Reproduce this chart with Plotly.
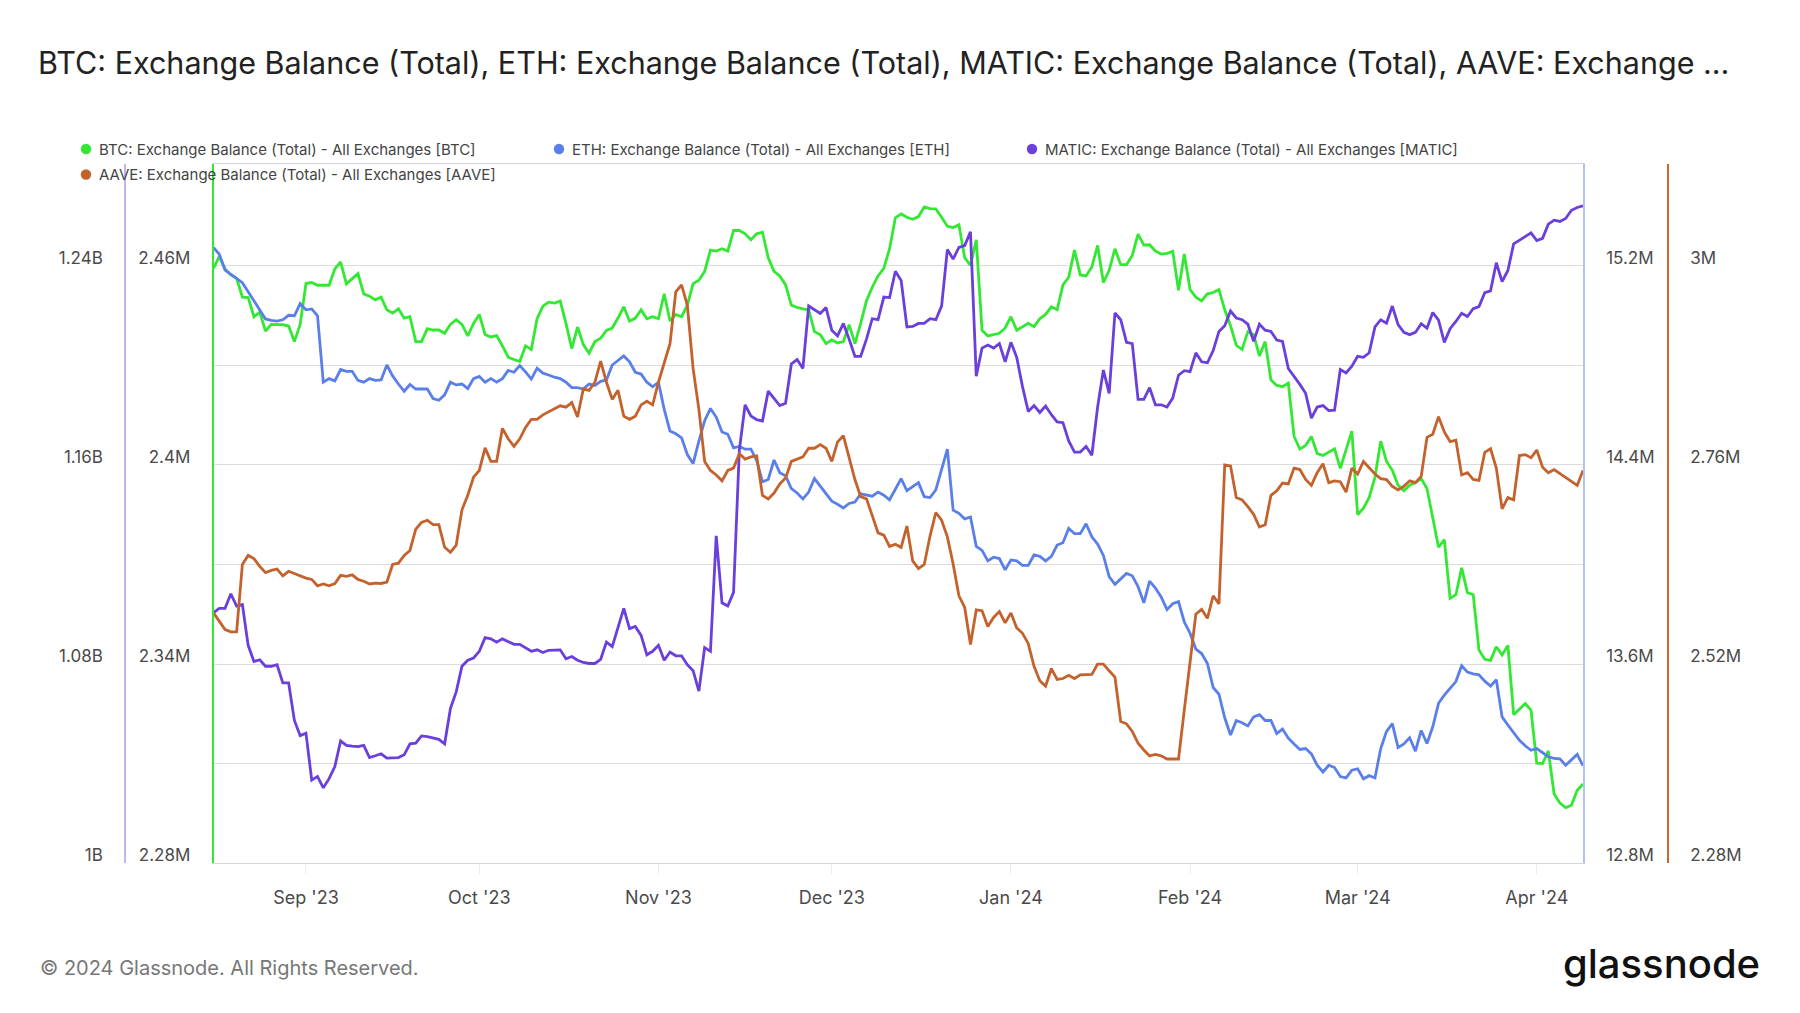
import pandas as pd
import plotly.graph_objects as go

start_date = "2023-08-16"

# daily exchange balances (Aug 16 2023 -> Apr 9 2024)
btc_k = [  # thousand BTC
    2459.3, 2462.9, 2459.1, 2457.3, 2456.3, 2450.6, 2450.5, 2444.7, 2446.1, 2440.4,
    2442.4, 2442.4, 2442.3, 2441.9, 2437.2, 2442.4, 2454.7, 2455.0, 2454.2, 2454.2,
    2454.2, 2459.1, 2461.2, 2454.6, 2456.1, 2457.7, 2451.6, 2450.9, 2449.8, 2450.6,
    2446.8, 2445.8, 2447.1, 2444.3, 2444.7,
    2437.2, 2437.2, 2441.1, 2440.7, 2440.7, 2439.7, 2442.4, 2443.8, 2442.4, 2438.9,
    2442.7, 2445.4, 2439.3, 2438.6, 2439.0, 2435.9, 2432.5, 2431.8, 2431.2, 2435.9,
    2434.8, 2444.1, 2447.9, 2449.1, 2448.8, 2449.4, 2442.7, 2435.1, 2441.6, 2436.3,
    2433.7, 2437.2, 2438.2,
    2440.6, 2441.3, 2444.3, 2447.7, 2443.4, 2444.3, 2446.8, 2444.1, 2444.7, 2444.1,
    2451.6, 2443.4, 2445.4, 2444.7, 2448.2, 2454.7, 2455.7, 2458.4, 2464.8, 2464.5,
    2465.2, 2464.5, 2470.7, 2470.7, 2469.7, 2467.9, 2469.7, 2470.2, 2462.5, 2458.4,
    2457.0, 2454.3, 2448.2, 2447.5,
    2447.1, 2446.8, 2440.2, 2439.3, 2436.6, 2437.7, 2436.8, 2437.2, 2442.3, 2436.6,
    2442.7, 2449.5, 2453.6, 2457.0, 2459.3, 2465.2, 2474.5, 2475.7, 2474.7, 2474.1,
    2474.9, 2477.8, 2477.3, 2477.2, 2474.7, 2472.0, 2471.6, 2472.4, 2462.5, 2460.2,
    2467.9, 2440.6, 2438.9, 2439.3,
    2439.7, 2441.3, 2444.7, 2440.6, 2441.7, 2442.7, 2441.7, 2444.1, 2445.4, 2447.7,
    2446.8, 2454.3, 2456.6, 2464.8, 2457.3, 2457.0, 2459.7, 2466.2, 2455.0, 2458.7,
    2465.2, 2460.4, 2460.4, 2463.2, 2469.6, 2466.3, 2466.4, 2464.5, 2463.6, 2463.8,
    2464.4, 2452.7, 2463.6, 2452.9,
    2450.6, 2449.5, 2451.6, 2452.0, 2452.9, 2446.8, 2442.0, 2436.1, 2434.8, 2440.2,
    2439.3, 2432.9, 2437.2, 2425.6, 2424.0, 2423.6, 2424.7, 2408.6, 2404.8, 2405.9,
    2408.6, 2403.4, 2402.9, 2403.8, 2404.9, 2399.0, 2404.5, 2410.2, 2385.0, 2387.0,
    2390.2, 2396.3, 2407.2,
    2401.1, 2398.4, 2393.9, 2392.2, 2393.9, 2394.7, 2395.9, 2392.9, 2384.0, 2375.2,
    2377.5, 2359.8, 2360.9, 2369.0, 2361.5, 2360.9, 2344.2, 2341.4, 2341.1, 2345.2,
    2342.7, 2345.6, 2324.7, 2326.5, 2328.1, 2326.1, 2310.1, 2310.0, 2313.8, 2300.8,
    2298.1, 2296.7, 2297.4, 2301.9, 2303.8,
]

eth_k = [  # thousand ETH
    15274.5, 15247.3, 15183.6, 15165.5, 15147.3, 15132.7, 15096.4, 15060.0, 15023.7, 14987.3,
    14981.8, 14978.2, 14983.7, 15001.8, 15000.0, 15049.1, 15023.7, 15027.3, 15000.0, 14732.8,
    14747.3, 14738.2, 14783.7, 14776.4, 14776.4, 14740.1, 14732.8, 14747.3, 14740.1, 14741.9,
    14801.9, 14758.2, 14725.5, 14696.5, 14723.7,
    14705.5, 14705.5, 14705.5, 14667.3, 14660.1, 14681.9, 14732.8, 14721.9, 14725.5, 14707.3,
    14747.3, 14756.4, 14732.8, 14747.3, 14732.8, 14747.3, 14780.0, 14772.8, 14800.0, 14774.6,
    14745.5, 14789.1, 14769.1, 14761.9, 14752.8, 14747.3, 14732.8, 14711.0, 14711.0, 14705.5,
    14725.5, 14720.1, 14736.4,
    14741.9, 14801.9, 14820.0, 14838.2, 14814.6, 14772.8, 14765.5, 14732.8, 14714.6, 14732.8,
    14623.7, 14536.4, 14525.5, 14509.2, 14441.9, 14405.5, 14496.4, 14578.4, 14627.3, 14592.8,
    14532.8, 14523.7, 14469.1, 14474.6, 14463.7, 14463.7, 14418.3, 14332.8, 14341.9, 14420.1,
    14369.2, 14356.4, 14305.5, 14287.4,
    14263.7, 14291.0, 14345.5, 14314.6, 14281.9, 14254.4, 14241.9, 14227.4, 14245.4, 14251.0,
    14283.7, 14278.3, 14274.6, 14291.0, 14278.3, 14260.1, 14301.9, 14345.5, 14296.5, 14314.6,
    14329.2, 14272.8, 14269.2, 14300.1, 14378.3, 14463.7, 14218.3, 14205.6, 14183.7, 14191.0,
    14072.9, 14056.5, 14014.6, 14029.2,
    14023.8, 13978.3, 14018.3, 14014.6, 13996.5, 13996.5, 14038.3, 14032.9, 14014.6, 14032.9,
    14078.3, 14087.4, 14145.4, 14123.7, 14123.7, 14163.7, 14111.0, 14081.9, 14036.5, 13951.0,
    13920.1, 13941.9, 13963.8, 13954.7, 13911.0, 13845.6, 13932.9, 13905.6, 13869.2, 13818.3,
    13842.0, 13851.0, 13769.2, 13723.8,
    13660.2, 13642.0, 13602.0, 13505.6, 13478.4, 13383.8, 13314.8, 13372.9, 13363.8, 13351.1,
    13387.5, 13396.5, 13372.9, 13372.9, 13320.2, 13338.4, 13302.0, 13278.4, 13256.6, 13260.2,
    13238.4, 13192.9, 13165.9, 13192.9, 13183.8, 13147.3, 13142.0, 13172.9, 13178.4, 13138.4,
    13151.1, 13142.0, 13260.2,
    13329.3, 13360.2, 13263.8, 13278.4, 13303.8, 13249.3, 13332.9, 13280.2, 13347.5, 13442.0,
    13474.7, 13503.8, 13529.3, 13592.9, 13567.4, 13560.2, 13556.5, 13531.1, 13511.1, 13536.5,
    13387.5, 13354.9, 13324.0, 13293.1, 13271.3, 13253.1, 13260.2, 13243.9, 13227.5, 13220.2,
    13218.4, 13193.0, 13212.9, 13236.6, 13191.1,
]

matic_m = [  # million MATIC
    1100.6, 1102.4, 1102.4, 1108.2, 1103.3, 1103.9, 1087.5, 1081.0, 1081.7, 1079.1,
    1079.1, 1079.7, 1072.4, 1072.4, 1057.3, 1051.2, 1052.2, 1033.3, 1034.8, 1030.2,
    1033.9, 1038.8, 1049.1, 1047.3, 1047.0, 1046.8, 1047.3, 1042.4, 1043.1, 1043.9,
    1042.2, 1042.4, 1042.4, 1043.5, 1047.9,
    1048.2, 1051.1, 1050.8, 1050.4, 1049.7, 1047.9, 1062.1, 1068.8, 1079.1, 1081.5,
    1082.4, 1085.1, 1090.6, 1090.1, 1088.8, 1090.1, 1089.0, 1087.9, 1087.9, 1086.4,
    1085.1, 1085.7, 1084.6, 1085.5, 1085.5, 1085.7, 1082.1, 1083.0, 1081.5, 1080.6,
    1080.2, 1080.2, 1081.9,
    1088.8, 1087.0, 1095.1, 1102.4, 1094.2, 1095.1, 1091.5, 1083.7, 1085.1, 1087.5,
    1081.5, 1084.8, 1083.3, 1083.3, 1079.7, 1077.3, 1069.1, 1086.6, 1085.1, 1131.5,
    1104.6, 1103.3, 1108.8, 1166.0, 1184.2, 1179.7, 1178.2, 1177.7, 1189.7, 1187.0,
    1183.9, 1184.8, 1200.6, 1202.4,
    1198.8, 1223.9, 1222.4, 1220.9, 1223.3, 1214.2, 1211.9, 1216.9, 1210.6, 1203.7,
    1203.7, 1210.6, 1218.8, 1218.4, 1227.5, 1227.3, 1237.9, 1234.2, 1215.5, 1215.7,
    1216.9, 1216.9, 1218.8, 1218.4, 1223.9, 1246.6, 1242.8, 1247.5, 1248.2, 1253.7,
    1195.7, 1207.0, 1208.2, 1207.0,
    1208.8, 1201.5, 1209.3, 1203.3, 1191.5, 1181.5, 1183.9, 1181.1, 1183.7, 1180.2,
    1177.3, 1177.0, 1169.7, 1165.2, 1165.2, 1167.5, 1163.9, 1183.3, 1198.2, 1188.8,
    1221.1, 1218.4, 1209.3, 1208.8, 1186.4, 1186.4, 1191.1, 1184.2, 1184.2, 1183.3,
    1186.9, 1196.1, 1197.9, 1197.5,
    1205.1, 1201.5, 1201.1, 1206.0, 1213.7, 1216.0, 1221.9, 1219.1, 1218.4, 1216.6,
    1209.7, 1216.6, 1214.2, 1213.7, 1210.2, 1209.7, 1198.8, 1195.7, 1192.4, 1188.8,
    1178.8, 1183.3, 1183.9, 1181.9, 1182.0, 1198.4, 1197.0, 1199.7, 1203.7, 1203.3,
    1205.1, 1215.5, 1218.4,
    1217.0, 1223.9, 1216.4, 1213.3, 1212.4, 1213.3, 1216.8, 1215.0, 1221.3, 1218.2,
    1209.3, 1214.8, 1217.7, 1221.0, 1219.7, 1222.8, 1223.7, 1229.3, 1230.0, 1241.3,
    1233.7, 1238.2, 1248.9, 1250.4, 1251.7, 1253.3, 1250.2, 1251.1, 1256.8, 1258.4,
    1257.9, 1259.1, 1262.4, 1263.5, 1264.2,
]

aave_k = [  # thousand AAVE
    2581.6, 2570.7, 2561.4, 2558.7, 2558.7, 2640.0, 2650.9, 2647.1, 2637.8, 2630.1,
    2632.9, 2634.5, 2626.3, 2631.8, 2629.1, 2626.3, 2623.6, 2622.0, 2614.3, 2616.5,
    2614.3, 2617.1, 2626.9, 2625.8, 2627.5, 2622.0, 2619.8, 2616.5, 2617.6, 2617.1,
    2618.7, 2640.0, 2641.6, 2650.9, 2656.9,
    2682.5, 2690.7, 2693.4, 2688.0, 2688.0, 2660.7, 2654.7, 2663.4, 2706.0, 2723.4,
    2745.3, 2753.4, 2780.7, 2764.4, 2764.4, 2804.2, 2791.6, 2782.4, 2791.6, 2805.3,
    2815.1, 2815.1, 2820.5, 2823.8, 2827.6, 2831.4, 2829.8, 2835.3, 2817.8, 2851.6,
    2850.0, 2859.8, 2885.4,
    2859.8, 2839.1, 2850.0, 2818.9, 2815.1, 2818.9, 2832.5, 2836.9, 2832.5, 2859.8,
    2881.6, 2906.2, 2968.9, 2977.1, 2952.5, 2876.2, 2827.1, 2764.3, 2753.4, 2748.0,
    2740.9, 2753.4, 2756.2, 2773.6, 2767.1, 2769.8, 2770.9, 2723.4, 2719.1, 2726.2,
    2737.1, 2744.2, 2764.3, 2767.1,
    2769.8, 2780.2, 2780.2, 2784.5, 2780.2, 2764.3, 2787.8, 2795.4, 2769.8, 2742.5,
    2721.8, 2719.1, 2698.9, 2678.2, 2675.4, 2661.8, 2664.5, 2660.7, 2686.3, 2644.3,
    2635.1, 2640.0, 2674.3, 2702.7, 2693.4, 2673.3, 2640.5, 2602.3, 2588.2, 2543.4,
    2585.4, 2584.3, 2565.2, 2576.1,
    2583.2, 2569.6, 2581.6, 2563.6, 2557.0, 2544.5, 2517.2, 2499.8, 2493.2, 2514.5,
    2501.4, 2502.5, 2506.3, 2502.5, 2506.9, 2506.9, 2507.4, 2519.9, 2519.9, 2511.8,
    2504.1, 2450.7, 2447.9, 2438.7, 2424.5, 2416.3, 2409.2, 2410.9, 2409.2, 2405.4,
    2405.4, 2405.4, 2464.3, 2524.3,
    2580.0, 2586.0, 2575.1, 2602.3, 2592.5, 2760.0, 2758.9, 2720.7, 2718.0, 2709.8,
    2700.5, 2685.2, 2688.0, 2723.4, 2728.9, 2738.2, 2737.1, 2756.2, 2754.5, 2742.5,
    2735.4, 2750.7, 2761.6, 2738.7, 2740.9, 2739.8, 2727.2, 2756.2, 2749.1, 2764.3,
    2757.2, 2749.1, 2743.6,
    2742.5, 2734.3, 2730.0, 2734.3, 2740.9, 2738.7, 2746.3, 2793.3, 2797.1, 2818.3,
    2799.8, 2788.3, 2790.0, 2748.0, 2750.7, 2742.5, 2741.4, 2775.3, 2779.6, 2756.2,
    2707.1, 2720.7, 2718.0, 2771.4, 2772.5, 2768.7, 2778.0, 2757.2, 2750.7, 2754.5,
    2749.6, 2744.2, 2739.8, 2735.4, 2753.4,
]

names = [
    "BTC: Exchange Balance (Total) - All Exchanges [BTC]",
    "ETH: Exchange Balance (Total) - All Exchanges [ETH]",
    "MATIC: Exchange Balance (Total) - All Exchanges [MATIC]",
    "AAVE: Exchange Balance (Total) - All Exchanges [AAVE]",
]
colors = ["#33e833", "#5b7fe9", "#6a3fdc", "#c4622d"]

btc_tickvals = [2.28e6, 2.31e6, 2.34e6, 2.37e6, 2.40e6, 2.43e6, 2.46e6]
btc_ticktext = ["2.28M", "", "2.34M", "", "2.4M", "", "2.46M"]
eth_tickvals = [12.8e6, 13.2e6, 13.6e6, 14.0e6, 14.4e6, 14.8e6, 15.2e6]
eth_ticktext = ["12.8M", "", "13.6M", "", "14.4M", "", "15.2M"]
matic_tickvals = [1.00e9, 1.04e9, 1.08e9, 1.12e9, 1.16e9, 1.20e9, 1.24e9]
matic_ticktext = ["1B", "", "1.08B", "", "1.16B", "", "1.24B"]
aave_tickvals = [2.28e6, 2.40e6, 2.52e6, 2.64e6, 2.76e6, 2.88e6, 3.00e6]
aave_ticktext = ["2.28M", "", "2.52M", "", "2.76M", "", "3M"]

title = ("BTC: Exchange Balance (Total), ETH: Exchange Balance (Total), "
         "MATIC: Exchange Balance (Total), AAVE: Exchange ...")

W, H = 1800, 1013
PLOT_TOP, PLOT_BOTTOM = 164, 863
FONT = "Inter, Roboto, sans-serif"


def py(px):
    # pixel row -> paper y (margins l=r=0, plot area 164..863)
    return (PLOT_BOTTOM - px) / (PLOT_BOTTOM - PLOT_TOP)


fig = go.Figure()

series = [
    (btc_k, 1e3, "y"),
    (eth_k, 1e3, "y2"),
    (matic_m, 1e6, "y3"),
    (aave_k, 1e3, "y4"),
]
for (vals, mult, yax), name, c in zip(series, names, colors):
    dates = pd.date_range(start_date, periods=len(vals), freq="D")
    fig.add_trace(go.Scatter(
        x=dates, y=[v * mult for v in vals], mode="lines", name=name,
        line=dict(color=c, width=2.8), yaxis=yax, showlegend=False))

# legend drawn by hand (dot + label), two rows like the original
legend_pos = [(86, 149), (559, 149), (1032, 149), (86, 174.5)]
shapes, annotations = [], []
r = 5.2
for (lx, ly), name, c in zip(legend_pos, names, colors):
    shapes.append(dict(type="circle", xref="paper", yref="paper",
                       x0=(lx - r) / W, x1=(lx + r) / W,
                       y0=py(ly + r), y1=py(ly - r),
                       fillcolor=c, line=dict(width=0), layer="above"))
    annotations.append(dict(text=name, xref="paper", yref="paper",
                            x=(lx + 11) / W, y=py(ly), xanchor="left",
                            yanchor="middle", showarrow=False,
                            font=dict(family=FONT, size=15, color="#444")))

annotations += [
    dict(text="\u00a9 2024 Glassnode. All Rights Reserved.",
         xref="paper", yref="paper", x=38 / W, y=py(968),
         xanchor="left", yanchor="middle", showarrow=False,
         font=dict(family=FONT, size=20, color="#777")),
    dict(text="glassnode", xref="paper", yref="paper",
         x=1762 / W, y=py(964), xanchor="right",
         yanchor="middle", showarrow=False,
         font=dict(family=FONT, size=40, color="#111", weight=500)),
]

axis_font = dict(family=FONT, size=17, color="#4a4a4a")
common_y = dict(showgrid=False, zeroline=False, ticks="", tickmode="array",
                tickfont=axis_font, ticklabelshift=-8, ticklabelstandoff=18,
                showline=True, linewidth=1.5, fixedrange=True)

fig.update_layout(
    width=W, height=H,
    paper_bgcolor="white", plot_bgcolor="white",
    margin=dict(l=0, r=0, t=PLOT_TOP, b=H - PLOT_BOTTOM),
    font=dict(family=FONT, color="#333"),
    showlegend=False,
    title=dict(text=title, xref="container", yref="container",
               x=38 / W, xanchor="left", y=1 - 63 / H, yanchor="middle",
               font=dict(family=FONT, size=30.5, color="#222")),
    xaxis=dict(
        domain=[213.5 / W, 1583 / W], type="date",
        range=["2023-08-16", "2024-04-09"],
        tick0="2023-09-01", dtick="M1", tickformat="%b '%y",
        showgrid=False, zeroline=False,
        showline=True, linecolor="#d2d5df", linewidth=1.2, mirror=True,
        ticks="outside", ticklen=10, tickcolor="#ececec",
        tickfont=dict(family=FONT, size=18, color="#4a4a4a"),
        ticklabelstandoff=8, fixedrange=True,
    ),
    yaxis=dict(common_y, range=[2.28e6, 2.49075e6], side="left",
               tickvals=btc_tickvals, ticktext=btc_ticktext,
               linecolor="#33e833", showgrid=True,
               gridcolor="#dcdcdc", gridwidth=1),
    yaxis2=dict(common_y, range=[12.8e6, 15.61e6], side="right",
                overlaying="y", anchor="x",
                tickvals=eth_tickvals, ticktext=eth_ticktext,
                linecolor="#b3c0f3"),
    yaxis3=dict(common_y, range=[1.0e9, 1.281e9], side="left",
                overlaying="y", anchor="free", position=125 / W,
                tickvals=matic_tickvals, ticktext=matic_ticktext,
                linecolor="#c2b4f2"),
    yaxis4=dict(common_y, range=[2.28e6, 3.123e6], side="right",
                overlaying="y", anchor="free", position=1668 / W,
                tickvals=aave_tickvals, ticktext=aave_ticktext,
                linecolor="#c8672f"),
    shapes=shapes,
    annotations=annotations,
)

# the page's default body margin would offset the chart by 8px
fig.write_html("out.html", config={"displayModeBar": False},
               post_script="document.body.style.margin='0';")
